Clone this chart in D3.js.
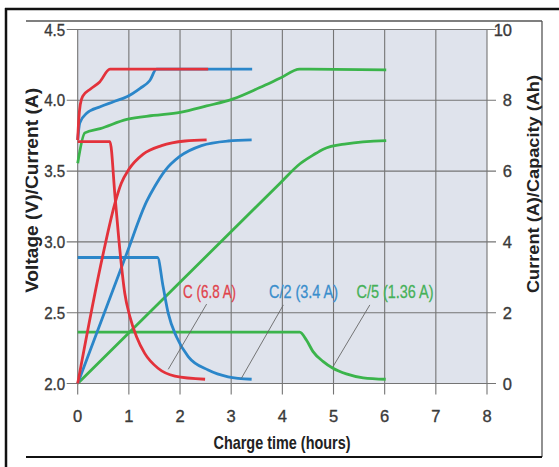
<!DOCTYPE html>
<html><head><meta charset="utf-8">
<script src="https://cdn.jsdelivr.net/npm/d3@7"></script>
<style>
html,body{margin:0;padding:0;background:#fff;}
svg{display:block;}
text{font-family:"Liberation Sans",Arial,sans-serif;}
</style></head>
<body>
<svg id="chart" width="559" height="467"></svg>
<script>
// ---------- data ----------
const hourTicks = [0,1,2,3,4,5,6,7,8];
const voltTicks = [2.0,2.5,3.0,3.5,4.0,4.5];
const rightTicks = [0,2,4,6,8,10];
const voltTickLabels = ["2.0","2.5","3.0","3.5","4.0","4.5"];

// C (6.8 A)
const redVoltage  = [[0,3.72],[0.02,3.86],[0.05,3.97],[0.1,4.03],[0.25,4.08],[0.43,4.13],[0.63,4.22],[2.55,4.22]];
const redCurrent  = [[0,6.83],[0.63,6.83],[0.73,5.28],[0.83,3.68],[0.92,2.55],[1.02,1.89],[1.15,1.32],[1.31,0.85],[1.57,0.43],[1.9,0.21],[2.49,0.12]];
const redCapacity = [[0,0],[0.5,3.68],[0.73,5.1],[0.85,5.65],[1.0,6.05],[1.28,6.48],[1.64,6.72],[2.1,6.85],[2.52,6.88]];
// C/2 (3.4 A)
const blueVoltage  = [[0,3.72],[0.04,3.84],[0.18,3.91],[0.44,3.955],[0.70,3.99],[0.96,4.025],[1.22,4.085],[1.41,4.14],[1.54,4.22],[3.41,4.22]];
const blueCurrent  = [[0,3.56],[1.56,3.56],[1.67,2.73],[1.77,1.98],[1.93,1.32],[2.16,0.76],[2.55,0.38],[2.94,0.19],[3.4,0.12]];
const blueCapacity = [[0,0],[0.96,3.68],[1.35,5.15],[1.5,5.55],[1.7,6.0],[2.0,6.42],[2.42,6.72],[2.94,6.85],[3.4,6.88]];
// C/5 (1.36 A)
const greenVoltage  = [[0,3.555],[0.14,3.77],[0.44,3.8],[0.96,3.865],[1.48,3.893],[2.0,3.915],[2.52,3.96],[3.04,4.01],[3.56,4.09],[3.95,4.155],[4.34,4.22],[6.03,4.215]];
const greenCurrent  = [[0,1.45],[4.34,1.45],[4.47,1.23],[4.6,0.9],[4.8,0.62],[4.99,0.43],[5.25,0.27],[5.58,0.16],[6.02,0.12]];
const greenCapacity = [[0,0],[3.95,5.65],[4.34,6.2],[4.6,6.45],[4.8,6.62],[5.25,6.77],[6.03,6.86]];

const rateLabels = ["C (6.8 A)","C/2 (3.4 A)","C/5 (1.36 A)"];
const labelWidths = [53,69,77];
const labelPos   = [[2.06,2.604],[3.74,2.604],[5.45,2.604]];      // hours, volts
const leaderFrom = [[2.52,2.561],[4.02,2.555],[5.71,2.555]];
const leaderTo   = [[1.77,2.10],[3.2,2.037],[4.99,2.119]];
const colors     = ["#e3323b","#2b86c9","#3bb44b"];
const labelColors= ["#e0444c","#3a8ecc","#46b158"];

// ---------- layout ----------
const svg = d3.select("#chart");
const x = d3.scaleLinear().domain([0,8]).range([77.7,487]);
const yL = d3.scaleLinear().domain([2.0,4.5]).range([383.5,29.5]);
const yR = d3.scaleLinear().domain([0,10]).range([383.5,29.5]);

// frame
svg.append("line").attr("x1",6).attr("x2",6).attr("y1",8).attr("y2",467).attr("stroke","#111").attr("stroke-width",2.5);
svg.append("line").attr("x1",5).attr("x2",559).attr("y1",9).attr("y2",9).attr("stroke","#111").attr("stroke-width",2.5);
svg.append("line").attr("x1",26).attr("x2",542).attr("y1",21).attr("y2",21).attr("stroke","#555").attr("stroke-width",1.3);
svg.append("line").attr("x1",542).attr("x2",542).attr("y1",21).attr("y2",457).attr("stroke","#555").attr("stroke-width",1.3);
svg.append("line").attr("x1",26).attr("x2",542).attr("y1",457).attr("y2",457).attr("stroke","#111").attr("stroke-width",1.8);

// plot background
svg.append("rect").attr("x",x(0)).attr("y",yL(4.5)).attr("width",x(8)-x(0)).attr("height",yL(2.0)-yL(4.5)).attr("fill","#dfe3ec");

// grid
const grid = svg.append("g").attr("stroke","#747474").attr("stroke-width",1.1);
grid.selectAll(".vg").data(hourTicks).join("line")
  .attr("x1",d=>x(d)).attr("x2",d=>x(d)).attr("y1",yL(4.5)).attr("y2",yL(2.0)+11);
grid.selectAll(".hg").data(voltTicks).join("line")
  .attr("x1",x(0)-11).attr("x2",x(8)+9).attr("y1",d=>yL(d)).attr("y2",d=>yL(d));

// tick labels
const tickStyle = s => s.attr("fill","#3a3a3a").attr("font-size",16.5).attr("stroke","#3a3a3a").attr("stroke-width",0.35);
svg.append("g").selectAll("text").data(voltTicks).join("text")
  .attr("x",x(0)-12.5).attr("y",d=>yL(d)+6).attr("text-anchor","end")
  .attr("textLength",21).attr("lengthAdjust","spacingAndGlyphs")
  .text((d,i)=>voltTickLabels[i]).call(tickStyle);
svg.append("g").selectAll("text").data(rightTicks).join("text")
  .attr("x",x(8)+25).attr("y",d=>yR(d)+6).attr("text-anchor","end")
  .text(d=>d).call(tickStyle);
svg.append("g").selectAll("text").data(hourTicks).join("text")
  .attr("x",d=>x(d)).attr("y",421.5).attr("text-anchor","middle")
  .text(d=>d).call(tickStyle);

// axis titles
svg.append("defs").append("clipPath").attr("id","lclip").append("rect").attr("x",25.5).attr("y",0).attr("width",100).attr("height",467);
svg.append("g").attr("clip-path","url(#lclip)")
  .append("text").attr("transform","translate(37.5,190.5) rotate(-90)").attr("text-anchor","middle")
  .attr("font-size",19).attr("font-weight","bold").attr("fill","#222")
  .attr("textLength",205).attr("lengthAdjust","spacingAndGlyphs")
  .text("Voltage (V)/Current (A)");
svg.append("text").attr("transform","translate(538.5,184) rotate(-90)").attr("text-anchor","middle")
  .attr("font-size",17).attr("font-weight","bold").attr("fill","#222")
  .attr("textLength",218).attr("lengthAdjust","spacingAndGlyphs")
  .text("Current (A)/Capacity (Ah)");
svg.append("text").attr("x",282).attr("y",448.5).attr("text-anchor","middle")
  .attr("font-size",18.5).attr("font-weight","bold").attr("fill","#222")
  .attr("textLength",137).attr("lengthAdjust","spacingAndGlyphs")
  .text("Charge time (hours)");

// curves
const lineV = d3.line().x(d=>x(d[0])).y(d=>yL(d[1])).curve(d3.curveMonotoneX);
const lineR = d3.line().x(d=>x(d[0])).y(d=>yR(d[1])).curve(d3.curveMonotoneX);
const series = [
  {c:2, v:greenVoltage, i:greenCurrent, q:greenCapacity},
  {c:1, v:blueVoltage,  i:blueCurrent,  q:blueCapacity},
  {c:0, v:redVoltage,   i:redCurrent,   q:redCapacity}
];
const curves = svg.append("g").attr("fill","none").attr("stroke-width",2.8).attr("stroke-linejoin","round").attr("stroke-linecap","butt");
series.forEach(s=>{
  curves.append("path").attr("d",lineR(s.q)).attr("stroke",colors[s.c]);
  curves.append("path").attr("d",lineR(s.i)).attr("stroke",colors[s.c]);
  curves.append("path").attr("d",lineV(s.v)).attr("stroke",colors[s.c]);
});

// annotations
const ann = svg.append("g");
rateLabels.forEach((t,k)=>{
  ann.append("line").attr("x1",x(leaderFrom[k][0])).attr("y1",yL(leaderFrom[k][1]))
    .attr("x2",x(leaderTo[k][0])).attr("y2",yL(leaderTo[k][1]))
    .attr("stroke","#666").attr("stroke-width",0.9);
  ann.append("text").attr("x",x(labelPos[k][0])).attr("y",yL(labelPos[k][1]))
    .attr("font-size",18.5).attr("fill",labelColors[k])
    .attr("stroke",labelColors[k]).attr("stroke-width",0.3)
    .attr("textLength",labelWidths[k]).attr("lengthAdjust","spacingAndGlyphs").text(t);
});
</script>
</body></html>
